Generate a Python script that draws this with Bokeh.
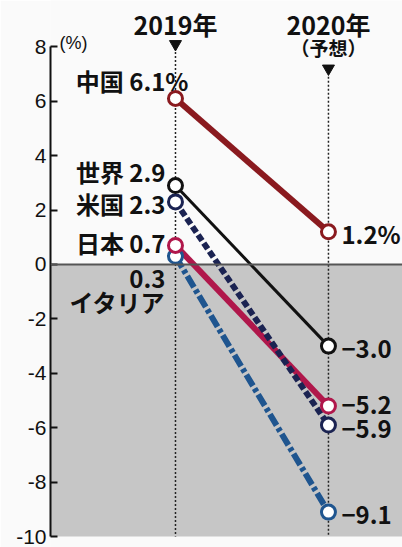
from bokeh.plotting import figure
from bokeh.models import Range1d, FixedTicker, BoxAnnotation, Span, PrintfTickFormatter
from bokeh.core.properties import value
from bokeh.embed import file_html
from bokeh.resources import INLINE

# ---- data ----
years = ["2019年", "2020年"]
forecast_note = "（予想）"
unit_label = "(%)"
countries = ["中国", "世界", "米国", "日本", "イタリア"]
growth_2019 = [6.1, 2.9, 2.3, 0.7, 0.3]
growth_2020 = [1.2, -3.0, -5.9, -5.2, -9.1]
y_ticks = [-10, -8, -6, -4, -2, 0, 2, 4, 6, 8]

# ---- styles / layout ----
colors = ["#8a1a1f", "#111111", "#1b2352", "#b0174b", "#1f558f"]
widths = [6, 3, 6, 6, 6]
dashes = ["solid", "solid", "7 3", "solid", "13 3 4 3"]
left_dx = [13, -10, -10, -10, -10]
left_dy = [-18, -14, 2, -3, 23]
right_dy = [2, 3, 4, -1, 3]
draw_order = [4, 3, 2, 1, 0]

JP = value("Noto Sans CJK JP")
LAB = "24px"

p = figure(width=402, height=547, output_backend="svg", toolbar_location=None,
           x_range=Range1d(-0.817, 1.484), y_range=Range1d(-10.4, 9.7),
           x_axis_type=None, min_border_left=50, min_border_right=0,
           min_border_top=0, min_border_bottom=0, background_fill_color="#fafafa",
           border_fill_color="#fafafa")
p.outline_line_color = None
p.grid.visible = False

ax = p.yaxis[0]
ax.bounds = (min(y_ticks), max(y_ticks))
ax.ticker = FixedTicker(ticks=y_ticks)
ax.formatter = PrintfTickFormatter(format="%d")
ax.major_tick_in = 7
ax.major_tick_out = 0
ax.minor_tick_line_color = None
ax.axis_line_width = 2
ax.axis_line_color = "#111111"
ax.major_tick_line_width = 2
ax.major_tick_line_color = "#111111"
ax.major_label_text_font_size = "21px"
ax.major_label_text_font = "Liberation Sans"
ax.major_label_text_color = "#111111"
ax.major_label_standoff = 4

# negative region shading
p.add_layout(BoxAnnotation(top=0, bottom=min(y_ticks), fill_color="#c6c6c6",
                           fill_alpha=1, line_color=None, level="underlay"))
p.add_layout(Span(location=0, dimension="width", line_color="#555555",
                  line_width=2))

# year guides
xs = [0, 1]
p.segment(x0=xs, y0=[7.95, 6.9], x1=xs, y1=[min(y_ticks)] * 2,
          line_color="#222222", line_width=1.5, line_dash="2 2")
p.scatter(x=xs, y=[8.1, 7.2], marker="inverted_triangle", size=12,
          fill_color="#111111", line_color="#111111")
p.text(x=xs, y=[8.85, 8.85], text=years, text_align="center",
       text_baseline="middle", text_font=JP, text_font_style="bold",
       text_font_size="25px", text_color="#111111")
p.text(x=[1], y=[7.98], text=[forecast_note], text_align="center",
       text_baseline="middle", text_font=JP, text_font_style="bold",
       text_font_size="19px", text_color="#111111")
p.text(x=[-0.817], y=[8.0], text=[unit_label], x_offset=9, y_offset=6,
       text_baseline="bottom", text_font=value("Liberation Sans"),
       text_font_size="18px", text_color="#111111")


def fmt(v, pct=False):
    s = f"{v:.1f}".replace("-", "−")
    return s + ("%" if pct else "")


for i in draw_order:
    p.line(x=xs, y=[growth_2019[i], growth_2020[i]], line_color=colors[i],
           line_width=widths[i], line_dash=dashes[i])
for i in draw_order:
    p.scatter(x=xs, y=[growth_2019[i], growth_2020[i]], marker="circle",
              size=14, fill_color="white", line_color=colors[i], line_width=3)

for i, name in enumerate(countries):
    pct = (i == 0)
    if name == "イタリア":
        p.text(x=[0], y=[growth_2019[i]], text=[fmt(growth_2019[i])],
               x_offset=left_dx[i], y_offset=left_dy[i], text_align="right",
               text_baseline="middle", text_font=JP, text_font_style="bold",
               text_font_size=LAB, text_color="#111111")
        p.text(x=[0], y=[growth_2019[i]], text=[name],
               x_offset=left_dx[i], y_offset=left_dy[i] + 22, text_align="right",
               text_baseline="middle", text_font=JP, text_font_style="bold",
               text_font_size=LAB, text_color="#111111")
    else:
        p.text(x=[0], y=[growth_2019[i]],
               text=[f"{name} {fmt(growth_2019[i], pct)}"],
               x_offset=left_dx[i], y_offset=left_dy[i], text_align="right",
               text_baseline="middle", text_font=JP, text_font_style="bold",
               text_font_size=LAB, text_color="#111111")
    p.text(x=[1], y=[growth_2020[i]], text=[fmt(growth_2020[i], pct)],
           x_offset=13, y_offset=right_dy[i], text_align="left",
           text_baseline="middle", text_font=JP, text_font_style="bold",
           text_font_size=LAB, text_color="#111111")

open("out.html", "w").write(file_html(p, INLINE))
